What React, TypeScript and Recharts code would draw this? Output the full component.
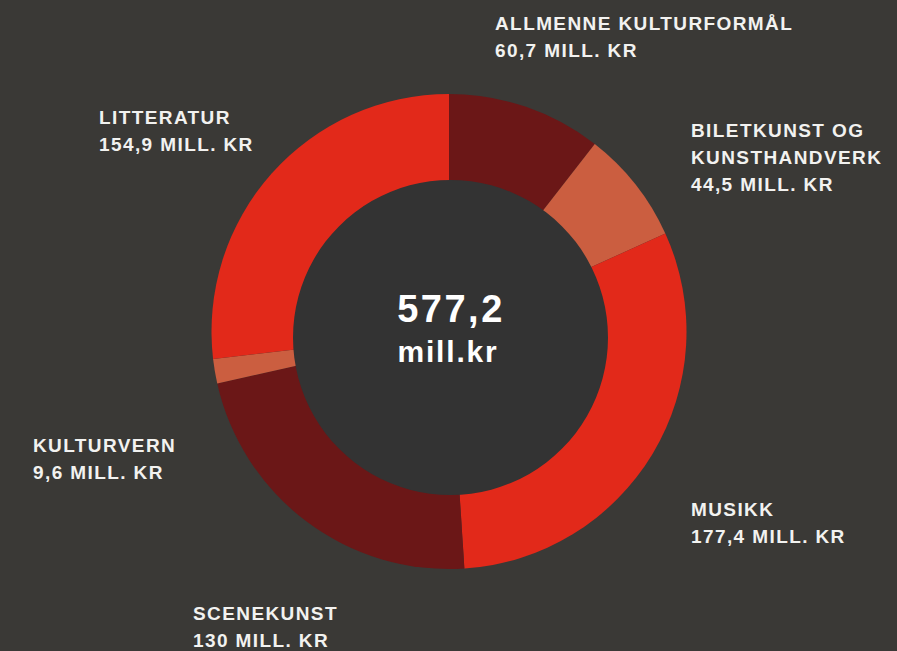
import React from 'react';
import { PieChart, Pie, Cell } from 'recharts';

const categories = ['ALLMENNE KULTURFORMÅL', 'BILETKUNST OG KUNSTHANDVERK', 'MUSIKK', 'SCENEKUNST', 'KULTURVERN', 'LITTERATUR'];
const amounts = [60.7, 44.5, 177.4, 130, 9.6, 154.9];
const amountLabels = ['60,7 MILL. KR', '44,5 MILL. KR', '177,4 MILL. KR', '130 MILL. KR', '9,6 MILL. KR', '154,9 MILL. KR'];
const totalLabel = '577,2';
const unitLabel = 'mill.kr';

const DARK = '#6b1717';
const SALMON = '#cb5e40';
const RED = '#e2291a';
const sliceColors = [DARK, SALMON, RED, DARK, SALMON, RED];

// label text blocks are placed by hand around the ring, like the original layout
const labelAnchors = [
  { x: 495, y: 30, lines: ['ALLMENNE KULTURFORMÅL'] },
  { x: 691, y: 137, lines: ['BILETKUNST OG', 'KUNSTHANDVERK'] },
  { x: 691, y: 516, lines: ['MUSIKK'] },
  { x: 193, y: 620, lines: ['SCENEKUNST'] },
  { x: 33, y: 452, lines: ['KULTURVERN'] },
  { x: 99, y: 124, lines: ['LITTERATUR'] },
];

const data = categories.map((name, i) => ({ name, value: amounts[i] }));
const hole = [{ name: 'hole', value: 1 }];

const LINE_H = 27;
const FONT = "'Liberation Sans', Arial, sans-serif";

const renderLabel = (props: any) => {
  const a = labelAnchors[props.index];
  const rows = [...a.lines, amountLabels[props.index]];
  return (
    <text
      key={props.index}
      x={a.x}
      y={a.y}
      fill="#f2f2f0"
      fontFamily={FONT}
      fontWeight="bold"
      fontSize={19}
      letterSpacing={1.4}
    >
      {rows.map((r, j) => (
        <tspan key={j} x={a.x} y={a.y + j * LINE_H}>{r}</tspan>
      ))}
    </text>
  );
};

export default function App() {
  return (
    <div style={{ width: 897, height: 651, background: '#3a3936', position: 'relative' }}>
      <style>{`body{margin:0;background:#3a3936}`}</style>
      <PieChart width={897} height={651} margin={{ top: 0, right: 0, bottom: 0, left: 0 }}>
        <Pie
          data={data}
          dataKey="value"
          cx={449}
          cy={331.5}
          innerRadius={0}
          outerRadius={237.5}
          startAngle={90}
          endAngle={-270}
          stroke="none"
          label={renderLabel}
          labelLine={false}
          isAnimationActive={false}
        >
          {data.map((d, i) => (
            <Cell key={d.name} fill={sliceColors[i]} />
          ))}
        </Pie>
        <Pie
          data={hole}
          dataKey="value"
          cx={450.5}
          cy={337.5}
          innerRadius={0}
          outerRadius={157.5}
          fill="#333333"
          stroke="none"
          isAnimationActive={false}
        />
      </PieChart>
      <svg width={897} height={651} style={{ position: 'absolute', left: 0, top: 0, pointerEvents: 'none' }}>
        <text x={451} y={322} textAnchor="middle" fill="#ffffff" fontFamily={FONT} fontWeight="bold" fontSize={38} letterSpacing={2.5}>
          {totalLabel}
        </text>
        <text x={448} y={362} textAnchor="middle" fill="#ffffff" fontFamily={FONT} fontWeight="bold" fontSize={30} letterSpacing={1.8}>
          {unitLabel}
        </text>
      </svg>
    </div>
  );
}
